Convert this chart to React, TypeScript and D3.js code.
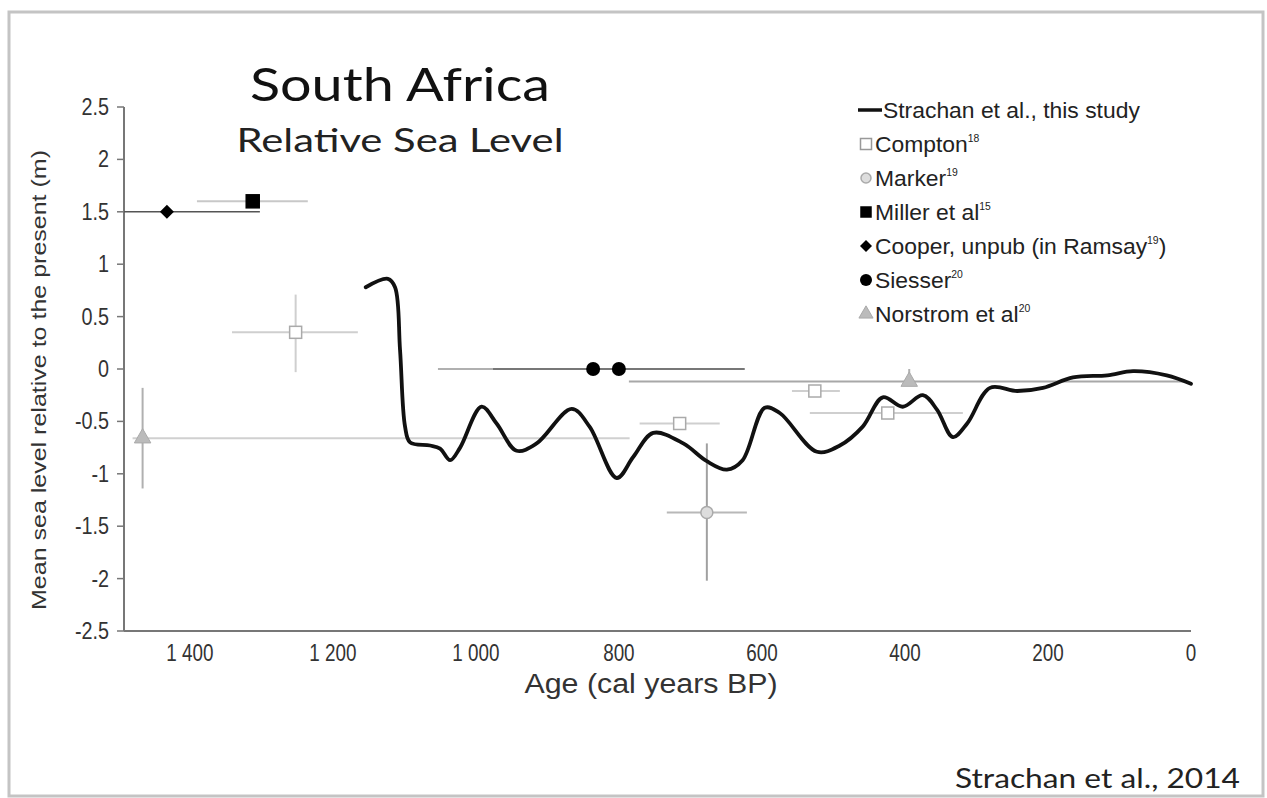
import React from "react";
import * as d3 from "d3";

// ---------------- DATA ----------------
const strachanAge = [1154, 1123, 1113, 1106, 1099, 1092, 1064, 1050, 1036, 1022, 992, 971, 943, 915, 866, 841, 803, 780, 752, 710, 677, 649, 627, 596, 575, 523, 491, 459, 431, 403, 375, 355, 333, 313, 281, 243, 207, 165, 117, 81, 34, 0];
const strachanLevel = [0.78, 0.86, 0.78, 0.18, -0.55, -0.7, -0.73, -0.76, -0.87, -0.75, -0.36, -0.52, -0.78, -0.71, -0.38, -0.55, -1.04, -0.84, -0.61, -0.71, -0.88, -0.96, -0.87, -0.37, -0.42, -0.79, -0.73, -0.55, -0.27, -0.36, -0.25, -0.39, -0.65, -0.52, -0.18, -0.21, -0.18, -0.08, -0.06, -0.02, -0.06, -0.14];

const comptonAge = [1252, 715, 526, 424];
const comptonLevel = [0.35, -0.52, -0.21, -0.42];
const comptonAgeOld = [1341, 771, 558, 533];
const comptonAgeYoung = [1165, 659, 491, 319];
const comptonLevelHigh = [0.71, null, null, null];
const comptonLevelLow = [-0.03, null, null, null];

const markerAge = [677];
const markerLevel = [-1.37];
const markerAgeOld = [733];
const markerAgeYoung = [621];
const markerLevelHigh = [-0.71];
const markerLevelLow = [-2.02];

const millerAge = [1312];
const millerLevel = [1.6];
const millerAgeOld = [1390];
const millerAgeYoung = [1235];

const cooperAge = [1432];
const cooperLevel = [1.5];
const cooperAgeOld = [1492];
const cooperAgeYoung = [1302];

const siesserAge = [836, 800];
const siesserLevel = [0, 0];
const siesserAgeOld = [1053, 976];
const siesserAgeYoung = [687, 624];

const norstromAge = [1466, 394];
const norstromLevel = [-0.66, -0.12];
const norstromAgeOld = [1480, 786];
const norstromAgeYoung = [785, 8];
const norstromLevelHigh = [-0.18, 0.0];
const norstromLevelLow = [-1.14, -0.16];

const yTicks = [2.5, 2, 1.5, 1, 0.5, 0, -0.5, -1, -1.5, -2, -2.5];
const yTickLabels = ["2.5", "2", "1.5", "1", "0.5", "0", "-0.5", "-1", "-1.5", "-2", "-2.5"];
const xTicks = [1400, 1200, 1000, 800, 600, 400, 200, 0];
const xTickLabels = ["1 400", "1 200", "1 000", "800", "600", "400", "200", "0"];

const legendNames = ["Strachan et al., this study", "Compton", "Marker", "Miller et al", "Cooper, unpub (in Ramsay", "Siesser", "Norstrom et al"];
const legendSups = ["", "18", "19", "15", "19", "20", "20"];
const legendTails = ["", "", "", "", ")", "", ""];

// ---------------- CHART ----------------
const W = 1267;
const H = 798;
const x = d3.scaleLinear().domain([1492, 0]).range([124, 1191]);
const y = d3.scaleLinear().domain([-2.5, 2.5]).range([631, 107]);

const sans = "'Liberation Sans', Arial, sans-serif";
const titleFont = "Lato, 'Open Sans', sans-serif";

function NarrowText(props: { x: number; y: number; size: number; anchor?: string; children: any; rotate?: number; sx?: number; fill?: string }) {
  const { x: tx, y: ty, size, anchor = "middle", children, rotate = 0, sx = 0.8, fill = "#333" } = props;
  return (
    <text
      transform={`translate(${tx},${ty}) rotate(${rotate}) scale(${sx},1)`}
      fontFamily={sans}
      fontSize={size}
      textAnchor={anchor as any}
      fill={fill}
    >
      {children}
    </text>
  );
}

function Square({ cx, cy, s, fill, stroke }: any) {
  return <rect x={cx - s / 2} y={cy - s / 2} width={s} height={s} fill={fill} stroke={stroke} strokeWidth={1.5} />;
}
function Diamond({ cx, cy, r, fill }: any) {
  const p = `M${cx},${cy - r}L${cx + r},${cy}L${cx},${cy + r}L${cx - r},${cy}Z`;
  return <path d={p} fill={fill} />;
}
function Tri({ cx, cy, s, fill, stroke }: any) {
  const p = d3.symbol(d3.symbolTriangle, s * s * 0.6)();
  return <path d={p as string} transform={`translate(${cx},${cy})`} fill={fill} stroke={stroke} strokeWidth={1} />;
}

function HBar({ a0, a1, v, color, w }: any) {
  return <line x1={x(a0)} x2={x(a1)} y1={y(v)} y2={y(v)} stroke={color} strokeWidth={w} />;
}
function VBar({ a, v0, v1, color, w }: any) {
  return <line x1={x(a)} x2={x(a)} y1={y(v0)} y2={y(v1)} stroke={color} strokeWidth={w} />;
}

export default function App() {
  const pts: [number, number][] = strachanAge.map((a, i) => [a, strachanLevel[i]]);
  const line = d3
    .line<[number, number]>()
    .x((d) => x(d[0]))
    .y((d) => y(d[1]))
    .curve(d3.curveCatmullRom.alpha(0.5));

  const legendX = 858;
  const legendY0 = 110;
  const legendDy = 34;

  return (
    <div style={{ position: "absolute", left: 0, top: 0, width: W, height: H, background: "#fff" }}>
      <svg width={W} height={H} viewBox={`0 0 ${W} ${H}`} style={{ display: "block" }}>
        <rect x={0} y={0} width={W} height={H} fill="#fff" />
        <rect x={9} y={12} width={1254} height={784} fill="none" stroke="#c4c4c4" strokeWidth={3} />

        {/* Titles */}
        <text x={400} y={101} textAnchor="middle" fontFamily={titleFont} fontSize={46} fill="#111" textLength={300} lengthAdjust="spacingAndGlyphs">
          South Africa
        </text>
        <text x={400} y={152} textAnchor="middle" fontFamily={titleFont} fontSize={33} fill="#222" textLength={327} lengthAdjust="spacingAndGlyphs">
          Relative Sea Level
        </text>
        <text x={1240} y={788} textAnchor="end" fontFamily={titleFont} fontSize={27} fill="#222" textLength={285} lengthAdjust="spacingAndGlyphs">
          Strachan et al., 2014
        </text>

        {/* Axes */}
        <line x1={124} x2={124} y1={y(2.5)} y2={y(-2.5)} stroke="#777" strokeWidth={2} />
        <line x1={124} x2={x(0)} y1={y(-2.5)} y2={y(-2.5)} stroke="#777" strokeWidth={2} />
        {yTicks.map((t, i) => (
          <g key={"yt" + i}>
            <line x1={117} x2={124} y1={y(t)} y2={y(t)} stroke="#777" strokeWidth={1.5} />
            <NarrowText x={109} y={y(t) + 8} size={23} anchor="end" sx={0.86} fill="#333">
              {yTickLabels[i]}
            </NarrowText>
          </g>
        ))}
        {xTicks.map((t, i) => (
          <NarrowText key={"xt" + i} x={x(t)} y={661} size={23} sx={0.82} fill="#333">
            {xTickLabels[i]}
          </NarrowText>
        ))}
        <text x={651} y={693} textAnchor="middle" fontFamily={sans} fontSize={27} fill="#333" textLength={253} lengthAdjust="spacingAndGlyphs">
          Age (cal years BP)
        </text>
        <text
          transform="translate(46,380) rotate(-90)"
          textAnchor="middle"
          fontFamily={sans}
          fontSize={21}
          fill="#333"
          textLength={460}
          lengthAdjust="spacingAndGlyphs"
        >
          Mean sea level relative to the present (m)
        </text>

        {/* Error bars */}
        {norstromAge.map((a, i) => (
          <g key={"nb" + i}>
            <HBar a0={norstromAgeOld[i]} a1={norstromAgeYoung[i]} v={norstromLevel[i]} color={i === 0 ? "#d0d0d0" : "#a8a8a8"} w={2} />
            <VBar a={a} v0={norstromLevelHigh[i]} v1={norstromLevelLow[i]} color="#b0b0b0" w={2} />
          </g>
        ))}
        {comptonAge.map((a, i) => (
          <g key={"cb" + i}>
            <HBar a0={comptonAgeOld[i]} a1={comptonAgeYoung[i]} v={comptonLevel[i]} color="#cfcfcf" w={2} />
            {comptonLevelHigh[i] !== null && (
              <VBar a={a} v0={comptonLevelHigh[i]} v1={comptonLevelLow[i]} color="#cfcfcf" w={2} />
            )}
          </g>
        ))}
        {markerAge.map((a, i) => (
          <g key={"mb" + i}>
            <HBar a0={markerAgeOld[i]} a1={markerAgeYoung[i]} v={markerLevel[i]} color="#b8b8b8" w={2} />
            <VBar a={a} v0={markerLevelHigh[i]} v1={markerLevelLow[i]} color="#a0a0a0" w={2} />
          </g>
        ))}
        {millerAge.map((a, i) => (
          <HBar key={"mib" + i} a0={millerAgeOld[i]} a1={millerAgeYoung[i]} v={millerLevel[i]} color="#c8c8c8" w={2} />
        ))}
        {cooperAge.map((a, i) => (
          <HBar key={"cob" + i} a0={cooperAgeOld[i]} a1={cooperAgeYoung[i]} v={cooperLevel[i]} color="#555" w={1.5} />
        ))}
        {siesserAge.map((a, i) => (
          <HBar key={"sb" + i} a0={siesserAgeOld[i]} a1={siesserAgeYoung[i]} v={siesserLevel[i]} color={i === 0 ? "#b0b0b0" : "#777"} w={2} />
        ))}

        {/* Strachan curve */}
        <path d={line(pts) as string} fill="none" stroke="#111" strokeWidth={3.8} strokeLinejoin="round" strokeLinecap="round" />

        {/* Markers */}
        {comptonAge.map((a, i) => (
          <Square key={"c" + i} cx={x(a)} cy={y(comptonLevel[i])} s={12} fill="#fff" stroke="#aaa" />
        ))}
        {markerAge.map((a, i) => (
          <g key={"m" + i}>
            <circle cx={x(a)} cy={y(markerLevel[i])} r={6} fill="#ddd" stroke="#aaa" strokeWidth={1.5} />
          </g>
        ))}
        {millerAge.map((a, i) => (
          <Square key={"mi" + i} cx={x(a)} cy={y(millerLevel[i])} s={13} fill="#000" stroke="#000" />
        ))}
        {cooperAge.map((a, i) => (
          <Diamond key={"co" + i} cx={x(a)} cy={y(cooperLevel[i])} r={7} fill="#000" />
        ))}
        {siesserAge.map((a, i) => (
          <circle key={"s" + i} cx={x(a)} cy={y(siesserLevel[i])} r={7} fill="#000" />
        ))}
        {norstromAge.map((a, i) => (
          <Tri key={"n" + i} cx={x(a)} cy={y(norstromLevel[i])} s={14} fill="#bbb" stroke="#aaa" />
        ))}

        {/* Legend */}
        {legendNames.map((name, i) => {
          const cy = legendY0 + i * legendDy;
          const sx = legendX + 8;
          let sym: any = null;
          if (i === 0) sym = <line x1={legendX} x2={legendX + 24} y1={cy} y2={cy} stroke="#111" strokeWidth={3.5} />;
          if (i === 1) sym = <Square cx={sx} cy={cy} s={11} fill="#fff" stroke="#999" />;
          if (i === 2) sym = <circle cx={sx} cy={cy} r={5} fill="#ddd" stroke="#aaa" strokeWidth={1.5} />;
          if (i === 3) sym = <Square cx={sx} cy={cy} s={10} fill="#000" stroke="#000" />;
          if (i === 4) sym = <Diamond cx={sx} cy={cy} r={6} fill="#000" />;
          if (i === 5) sym = <circle cx={sx} cy={cy} r={6} fill="#000" />;
          if (i === 6) sym = <Tri cx={sx} cy={cy} s={12} fill="#bbb" stroke="#aaa" />;
          const tx = i === 0 ? legendX + 25 : legendX + 17;
          return (
            <g key={"lg" + i}>
              {sym}
              <text
                transform={`translate(${tx},${cy + 8}) scale(1.04,1)`}
                fontFamily={sans}
                fontSize={22}
                fill="#222"
              >
                {name}
                {legendSups[i] && (
                  <tspan fontSize={10} dy={-10}>
                    {legendSups[i]}
                  </tspan>
                )}
                {legendTails[i] && <tspan dy={10}>{legendTails[i]}</tspan>}
              </text>
            </g>
          );
        })}
      </svg>
    </div>
  );
}
